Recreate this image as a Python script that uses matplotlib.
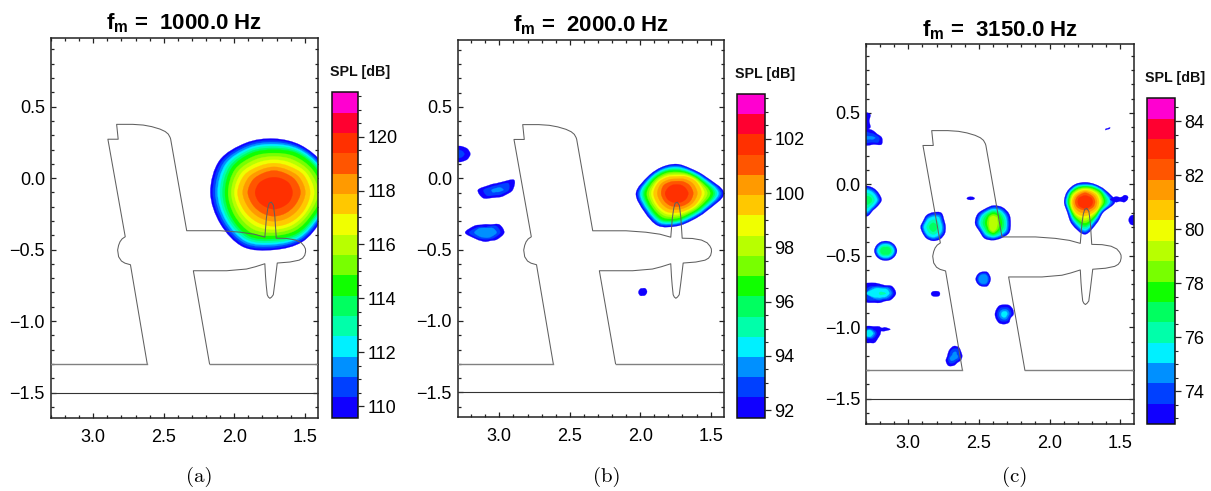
import numpy as np
import matplotlib
matplotlib.use('Agg')
import matplotlib.pyplot as plt
from matplotlib.colors import ListedColormap, BoundaryNorm
from matplotlib.cm import ScalarMappable
from matplotlib.patches import PathPatch
from matplotlib.path import Path
from matplotlib.ticker import MultipleLocator

plt.rcParams['font.family'] = ['Liberation Sans', 'DejaVu Sans']
plt.rcParams['mathtext.fontset'] = 'custom'
plt.rcParams['mathtext.bf'] = 'Liberation Sans:bold'
plt.rcParams['mathtext.rm'] = 'Liberation Sans'

W, H = 1211, 491

band_colors = ['#1000ff', '#0040ff', '#0090ff', '#00f0ff', '#00ffaa', '#00ff60', '#10ff00', '#78ff00',
               '#b8ff00', '#f0ff00', '#ffc800', '#ff9a00', '#ff5500', '#ff3000', '#ff0030', '#ff00d0']

titles = ['1000.0', '2000.0', '3150.0']
captions = ['(a)', '(b)', '(c)']

# colour bar range of each panel, dB
spl_low = [109.58, 91.72, 72.79]
spl_high = [121.64, 103.65, 84.84]
spl_ticks = [[110, 112, 114, 116, 118, 120], [92, 94, 96, 98, 100, 102], [74, 76, 78, 80, 82, 84]]

# aircraft outline, model coordinates
outline_x = [2.617, 2.736, 2.775, 2.80, 2.82, 2.827, 2.82, 2.81, 2.795, 2.773, 2.896, 2.823, 2.834, 2.72, 2.645,
             2.585, 2.527, 2.49, 2.468, 2.455, 2.451, 2.337, 2.10, 1.96, 1.86, 1.783, 1.772, 1.762, 1.752, 1.737,
             1.722, 1.712, 1.702, 1.629, 1.565, 1.525, 1.505, 1.495, 1.494, 1.50, 1.515, 1.54, 1.605, 1.695, 1.703,
             1.712, 1.723, 1.735, 1.747, 1.758, 1.766, 1.773, 1.778, 1.783, 1.85, 1.913, 2.054, 2.29, 2.175]
outline_y = [-1.30, -0.606, -0.595, -0.58, -0.55, -0.503, -0.47, -0.445, -0.425, -0.41, 0.272, 0.272, 0.376, 0.376,
             0.371, 0.36, 0.343, 0.326, 0.308, 0.285, 0.273, -0.368, -0.368, -0.378, -0.392, -0.413, -0.28, -0.21,
             -0.175, -0.168, -0.19, -0.27, -0.42, -0.422, -0.433, -0.452, -0.475, -0.495, -0.515, -0.54, -0.56,
             -0.574, -0.587, -0.594, -0.66, -0.734, -0.816, -0.832, -0.841, -0.832, -0.816, -0.75, -0.688, -0.599,
             -0.62, -0.636, -0.648, -0.648, -1.30]
ground_y = [-1.30, -1.50]

# contours read per blob: centre x, centre y, {colour band: radius in 12 directions, in 1/3 px}
blobs_a = [
    (1.718, -0.100, {
        0: [178, 170, 162, 160, 170, 190, 192, 187, 187, 171, 170, 165],
        6: [158, 145, 135, 127, 135, 147, 148, 148, 150, 138, 140, 140],
        10: [109, 103, 90, 87, 90, 103, 110, 105, 102, 101, 102, 105],
        12: [80, 74, 66, 65, 66, 74, 79, 74, 71, 71, 71, 74],
        13: [56, 53, 47, 45, 47, 53, 57, 54, 50, 50, 50, 54]}),
]
blobs_b = [
    (1.741, -0.105, {
        0: [143, 100, 85, 87, 90, 100, 123, 112, 112, 98, 93, 105],
        6: [110, 82, 70, 68, 73, 82, 97, 90, 90, 80, 75, 85],
        10: [75, 68, 57, 50, 55, 64, 70, 66, 63, 58, 58, 66],
        12: [50, 46, 40, 36, 39, 46, 47, 44, 42, 40, 42, 47],
        13: [35, 31, 28, 26, 28, 31, 35, 33, 30, 28, 30, 33]}),
    (3.286, 0.170, {
        0: [34, 30, 25, 24, 25, 30, 34, 30, 25, 24, 25, 30],
        1: [16, 14, 12, 12, 12, 14, 16, 14, 12, 12, 12, 14]}),
    (3.018, -0.082, {
        0: [48, 60, 27, 20, 21, 28, 57, 48, 27, 22, 24, 30],
        1: [36, 40, 19, 13, 14, 19, 40, 34, 18, 15, 17, 21],
        2: [20, 14, 8, 6, 6, 8, 16, 14, 7, 6, 7, 10]}),
    (3.097, -0.381, {
        0: [56, 48, 28, 25, 27, 40, 62, 36, 28, 27, 28, 40],
        1: [44, 38, 22, 16, 20, 30, 50, 30, 22, 20, 22, 30],
        2: [33, 26, 16, 14, 16, 24, 34, 22, 16, 15, 17, 22]}),
    (1.982, -0.797, {0: [13, 13, 13, 11, 12, 12, 13, 13, 13, 11, 12, 12]}),
]
blobs_c = [
    (1.749, -0.122, {
        0: [90, 70, 60, 58, 60, 62, 63, 62, 78, 97, 72, 63],
        3: [75, 62, 54, 50, 53, 55, 56, 55, 67, 85, 62, 56],
        6: [60, 56, 48, 45, 47, 50, 50, 50, 58, 70, 55, 50],
        10: [42, 40, 36, 35, 35, 38, 40, 41, 43, 42, 40, 42],
        12: [30, 28, 26, 27, 26, 28, 30, 29, 26, 25, 26, 29],
        13: [23, 22, 19, 19, 19, 22, 22, 22, 20, 20, 20, 22]}),
    (1.502, -0.105, {0: [22, 16, 8, 6, 8, 16, 30, 16, 8, 6, 8, 16]}),
    (1.466, -0.094, {0: [9, 9, 8, 8, 8, 8, 9, 9, 8, 8, 8, 8]}),
    (1.408, -0.250, {0: [14, 14, 15, 15, 15, 14, 14, 14, 15, 15, 15, 14]}),
    (2.823, -0.297, {
        0: [37, 38, 48, 43, 40, 35, 38, 37, 40, 42, 42, 40],
        3: [26, 26, 33, 30, 28, 26, 28, 28, 30, 31, 30, 28],
        5: [12, 11, 11, 12, 11, 11, 12, 12, 13, 15, 13, 12]}),
    (2.398, -0.273, {
        0: [52, 55, 55, 53, 50, 55, 55, 48, 52, 50, 50, 55],
        4: [37, 38, 40, 39, 37, 38, 38, 35, 37, 38, 37, 39],
        6: [26, 27, 31, 32, 29, 26, 25, 24, 29, 32, 28, 26],
        8: [13, 14, 20, 22, 20, 14, 13, 14, 20, 24, 18, 13]}),
    (2.558, -0.098, {0: [12, 8, 5, 5, 5, 8, 12, 8, 5, 5, 5, 8]}),
    (2.469, -0.663, {
        0: [22, 22, 24, 22, 22, 22, 23, 22, 22, 22, 24, 22],
        1: [18, 18, 19, 18, 18, 18, 18, 18, 18, 18, 19, 18],
        2: [13, 14, 15, 14, 14, 14, 14, 14, 14, 14, 15, 14]}),
    (2.806, -0.766, {0: [13, 12, 9, 8, 9, 12, 14, 12, 9, 8, 9, 12]}),
    (3.271, 0.326, {
        0: [36, 24, 23, 25, 30, 30, 30, 30, 26, 22, 23, 40],
        1: [28, 18, 15, 14, 20, 20, 20, 20, 18, 14, 15, 28],
        2: [16, 8, 5, 5, 5, 10, 10, 10, 5, 5, 5, 10]}),
    (3.294, 0.443, {0: [8, 10, 22, 25, 22, 10, 8, 10, 22, 25, 22, 10]}),
    (3.290, -0.110, {
        0: [43, 40, 40, 42, 45, 45, 45, 45, 45, 48, 35, 36],
        3: [30, 28, 28, 30, 32, 32, 32, 32, 32, 34, 26, 26],
        5: [14, 13, 12, 12, 12, 12, 12, 12, 12, 14, 12, 13]}),
    (3.160, -0.465, {
        0: [34, 32, 30, 29, 30, 32, 34, 32, 30, 29, 30, 32],
        3: [25, 23, 21, 20, 21, 23, 25, 23, 21, 20, 21, 23],
        5: [16, 15, 13, 11, 13, 15, 16, 15, 13, 11, 13, 15]}),
    (3.200, -0.763, {
        0: [48, 42, 28, 28, 36, 55, 50, 50, 32, 28, 27, 38],
        1: [40, 35, 22, 22, 25, 38, 50, 40, 24, 22, 22, 32],
        2: [35, 30, 20, 18, 22, 30, 40, 26, 20, 18, 18, 26],
        3: [28, 24, 16, 15, 18, 24, 40, 22, 14, 13, 13, 20],
        4: [18, 8, 5, 4, 3, 3, 3, 3, 3, 4, 5, 8]}),
    (3.276, -1.043, {
        0: [34, 38, 24, 22, 24, 30, 30, 30, 30, 28, 32, 30],
        1: [22, 20, 16, 15, 16, 20, 20, 20, 18, 16, 18, 20],
        2: [17, 14, 12, 12, 12, 14, 15, 15, 13, 12, 14, 15],
        3: [12, 10, 10, 10, 10, 10, 12, 12, 10, 10, 10, 10]}),
    (3.188, -1.015, {0: [26, 12, 5, 5, 5, 10, 25, 10, 6, 5, 6, 10]}),
    (2.677, -1.202, {
        0: [25, 25, 30, 30, 24, 20, 20, 28, 33, 28, 22, 24],
        1: [18, 18, 24, 22, 18, 14, 14, 20, 24, 20, 16, 18],
        2: [12, 10, 14, 12, 8, 6, 8, 14, 16, 12, 10, 12]}),
    (2.321, -0.910, {
        0: [28, 30, 31, 29, 30, 28, 28, 28, 30, 29, 28, 22],
        1: [21, 22, 23, 21, 22, 21, 21, 21, 22, 21, 21, 18],
        2: [15, 16, 16, 15, 15, 15, 15, 15, 15, 15, 15, 13],
        3: [9, 10, 10, 9, 9, 9, 9, 9, 9, 9, 9, 8]}),
    (1.589, 0.389, {0: [6, 8, 2, 1.5, 2, 2, 6, 8, 2, 1.5, 2, 2]}),
]
panel_blobs = [blobs_a, blobs_b, blobs_c]

# panel boxes in pixels: left, right, top, bottom
main_boxes = [(50.5, 318, 38, 418), (457.5, 724.3, 39.7, 417.3), (865.7, 1134.3, 44.3, 424)]
cbar_boxes = [(331.7, 358.3, 92.3, 417.7), (737.3, 764.7, 94, 417.7), (1147.3, 1174.7, 98.3, 424)]
xlims = [(3.303, 1.406), (3.297, 1.403), (3.301, 1.401)]
ylims = [(-1.678, 0.98), (-1.675, 0.971), (-1.677, 0.98)]
cap_x = [199, 607, 1015]
RADIUS_UNIT = 0.00235


def add_axes_px(fig, box):
    left, right, top, bottom = box
    return fig.add_axes([left / W, 1 - bottom / H, (right - left) / W, (bottom - top) / H])


def smooth_ring(xs, ys):
    # closed Catmull-Rom through the read points, as bezier segments
    pts = np.column_stack([xs, ys])
    n = len(pts)
    verts = [pts[0]]
    codes = [Path.MOVETO]
    for i in range(n):
        p0, p1, p2, p3 = pts[i - 1], pts[i], pts[(i + 1) % n], pts[(i + 2) % n]
        verts += [p1 + (p2 - p0) / 6, p2 - (p3 - p1) / 6, p2]
        codes += [Path.CURVE4] * 3
    return Path(verts, codes)


def draw_blob(ax, blob):
    cx, cy, rings = blob
    keys = sorted(rings)
    table = np.array([rings[k] for k in keys], dtype=float)
    angles = np.arange(table.shape[1]) * 2 * np.pi / table.shape[1]
    for band in range(keys[0], keys[-1] + 1):
        radii = np.array([np.interp(band, keys, table[:, j]) for j in range(table.shape[1])]) * RADIUS_UNIT
        path = smooth_ring(cx - radii * np.cos(angles), cy + radii * np.sin(angles))
        ax.add_patch(PathPatch(path, facecolor=band_colors[band], edgecolor=band_colors[band], lw=0.2, zorder=2))


def draw_panel(fig, i):
    ax = add_axes_px(fig, main_boxes[i])
    for blob in panel_blobs[i]:
        draw_blob(ax, blob)
    ax.plot(outline_x, outline_y, color='#606060', lw=0.75, zorder=3)
    ax.plot([xlims[i][0], outline_x[0]], [ground_y[0]] * 2, color='#808080', lw=1.0, zorder=3)
    ax.plot([outline_x[-1], xlims[i][1]], [ground_y[0]] * 2, color='#808080', lw=1.0, zorder=3)
    ax.axhline(ground_y[1], color='#333333', lw=0.8, zorder=3)
    ax.set_xlim(xlims[i])
    ax.set_ylim(ylims[i])
    ax.xaxis.set_major_locator(MultipleLocator(0.5))
    ax.xaxis.set_minor_locator(MultipleLocator(0.1))
    ax.yaxis.set_major_locator(MultipleLocator(0.5))
    ax.yaxis.set_minor_locator(MultipleLocator(0.1))
    ax.tick_params(which='both', direction='in', top=True, right=True, width=0.9, color='#222222')
    ax.tick_params(which='major', length=3.8, labelsize=13, pad=4)
    ax.tick_params(axis='x', which='major', pad=8)
    ax.tick_params(which='minor', length=2)
    for s in ax.spines.values():
        s.set_linewidth(1.1)
        s.set_color('#222222')
    ax.set_title(r'$\mathbf{f_m}$ =  ' + titles[i] + ' Hz', fontsize=16, fontweight='bold', pad=6)

    cax = add_axes_px(fig, cbar_boxes[i])
    edges = np.linspace(spl_low[i], spl_high[i], len(band_colors) + 1)
    cmap = ListedColormap(band_colors)
    norm = BoundaryNorm(edges, cmap.N)
    cb = fig.colorbar(ScalarMappable(norm=norm, cmap=cmap), cax=cax, spacing='proportional', drawedges=False)
    cb.set_ticks(spl_ticks[i])
    cb.ax.yaxis.set_minor_locator(MultipleLocator(0.5))
    cb.ax.tick_params(which='major', length=4, labelsize=13, pad=3, width=0.9, color='#222222')
    cb.ax.tick_params(which='minor', length=2, width=0.8, color='#222222')
    cb.outline.set_linewidth(1.1)
    cb.outline.set_edgecolor('#111111')
    left, right, top, bottom = cbar_boxes[i]
    fig.text((left + 28) / W, 1 - (top - 20) / H, 'SPL [dB]', fontsize=10.3, fontweight='bold',
             ha='center', va='center', color='#111111')
    fig.text(cap_x[i] / W, 1 - 477 / H, captions[i], fontsize=15, family='cmr10', ha='center', va='center')


def main():
    fig = plt.figure(figsize=(W / 100, H / 100), dpi=100)
    for i in range(3):
        draw_panel(fig, i)
    fig.savefig('out.png', dpi=100)


if __name__ == '__main__':
    main()
